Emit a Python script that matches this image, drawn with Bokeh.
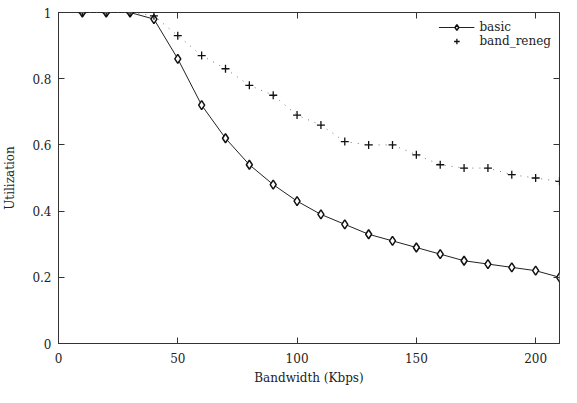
from bokeh.plotting import figure
from bokeh.embed import file_html
from bokeh.resources import INLINE
from bokeh.models import LinearAxis, FixedTicker, Range1d, Legend, LegendItem

bandwidth = [10, 20, 30, 40, 50, 60, 70, 80, 90, 100, 110, 120, 130, 140, 150, 160, 170, 180, 190, 200, 210]
basic = [1.0, 1.0, 1.0, 0.98, 0.86, 0.72, 0.62, 0.54, 0.48, 0.43, 0.39, 0.36, 0.33, 0.31, 0.29, 0.27, 0.25, 0.24, 0.23, 0.22, 0.20]
band_reneg = [1.0, 1.0, 1.0, 0.99, 0.93, 0.87, 0.83, 0.78, 0.75, 0.69, 0.66, 0.61, 0.60, 0.60, 0.57, 0.54, 0.53, 0.53, 0.51, 0.50, 0.49]
x_ticks = [0, 50, 100, 150, 200]
y_ticks = [0, 0.2, 0.4, 0.6, 0.8, 1.0]
y_labels = ["0", "0.2", "0.4", "0.6", "0.8", "1"]

FONT = "DejaVu Serif"

p = figure(width=561, height=387, output_backend="svg", toolbar_location=None,
           x_range=Range1d(0, 210), y_range=Range1d(0, 1),
           min_border_left=12, min_border_right=2, min_border_top=12, min_border_bottom=0)
p.grid.visible = False
p.outline_line_color = "#333333"
p.outline_line_width = 1

for ax in (p.xaxis[0], p.yaxis[0]):
    ax.major_tick_in = 6
    ax.major_tick_out = 0
    ax.minor_tick_in = 0
    ax.minor_tick_out = 0
    ax.axis_line_color = "#333333"
    ax.major_tick_line_color = "#333333"
    ax.major_label_text_font = FONT
    ax.major_label_text_font_size = "12px"
    ax.major_label_text_color = "#222222"
    ax.axis_label_text_font = FONT
    ax.axis_label_text_font_size = "12px"
    ax.axis_label_text_font_style = "normal"
    ax.axis_label_text_color = "#222222"

p.xaxis[0].ticker = FixedTicker(ticks=x_ticks)
p.yaxis[0].ticker = FixedTicker(ticks=y_ticks)
p.yaxis[0].major_label_overrides = {t: l for t, l in zip(y_ticks, y_labels)}
p.xaxis[0].axis_label = "Bandwidth (Kbps)"
p.yaxis[0].axis_label = "Utilization"
p.xaxis[0].major_label_standoff = 9
p.yaxis[0].major_label_standoff = 7
p.xaxis[0].axis_label_standoff = 5
p.yaxis[0].axis_label_standoff = 12

top = LinearAxis(ticker=FixedTicker(ticks=x_ticks),
                 major_label_overrides={t: "" for t in x_ticks},
                 major_tick_in=6, major_tick_out=0, minor_tick_in=0, minor_tick_out=0,
                 axis_line_color=None, major_tick_line_color="#333333", major_label_standoff=0)
right = LinearAxis(ticker=FixedTicker(ticks=y_ticks),
                   major_label_overrides={t: "" for t in y_ticks},
                   major_tick_in=6, major_tick_out=0, minor_tick_in=0, minor_tick_out=0,
                   axis_line_color=None, major_tick_line_color="#333333", major_label_standoff=0)
p.add_layout(top, "above")
p.add_layout(right, "right")

l1 = p.line(bandwidth, basic, line_color="#222222", line_width=1)
m1 = p.scatter(bandwidth, basic, marker="diamond", size=9, fill_color="white",
               line_color="#111111", line_width=1.5)
l2 = p.line(bandwidth, band_reneg, line_color="#777777", line_width=1, line_dash="1 6")
m2 = p.scatter(bandwidth, band_reneg, marker="cross", size=8, line_color="#111111", line_width=1.3)

legend = Legend(items=[LegendItem(label="basic", renderers=[l1, m1]),
                       LegendItem(label="band_reneg", renderers=[m2])],
                location="top_right", border_line_color=None, background_fill_alpha=0,
                label_text_font=FONT, label_text_font_size="12px", label_text_color="#222222",
                glyph_width=36, spacing=-4, padding=4, margin=8,
                label_height=14, glyph_height=14)
p.add_layout(legend)

open("out.html", "w").write(file_html(p, INLINE))
